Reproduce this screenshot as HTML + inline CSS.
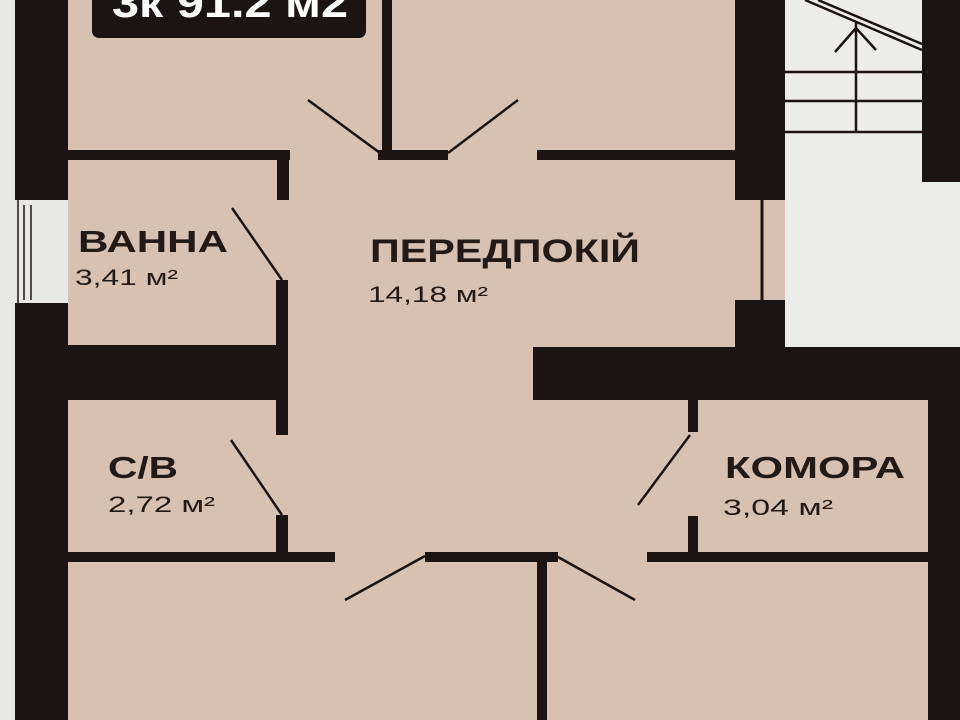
<!DOCTYPE html>
<html><head><meta charset="utf-8"><style>
html,body{margin:0;padding:0;width:960px;height:720px;overflow:hidden;background:#e8e8e6}
svg{display:block}
text{font-family:"Liberation Sans",sans-serif;fill:#231a16}
</style></head><body>
<svg width="960" height="720" viewBox="0 0 960 720" xmlns="http://www.w3.org/2000/svg">
<rect x="0" y="0" width="960" height="720" fill="#e8e8e6"/>
<!-- beige floor -->
<rect x="68" y="0" width="667" height="720" fill="#d7c1b3"/>
<rect x="735" y="348" width="193" height="372" fill="#d7c1b3"/>
<rect x="735" y="200" width="50" height="100" fill="#d7c1b3"/>
<!-- stair area -->
<rect x="785" y="0" width="175" height="348" fill="#ececea"/>
<g fill="#1c1412">
<rect x="15" y="0" width="53" height="200"/>
<rect x="15" y="303" width="53" height="417"/>
<rect x="68" y="150" width="222" height="10"/>
<rect x="277" y="150" width="12" height="50"/>
<rect x="276" y="280" width="12" height="80"/>
<rect x="15" y="345" width="273" height="55"/>
<rect x="276" y="395" width="12" height="40"/>
<rect x="276" y="515" width="12" height="45"/>
<rect x="68" y="552" width="267" height="10"/>
<rect x="382" y="0" width="10" height="158"/>
<rect x="378" y="150" width="70" height="10"/>
<rect x="537" y="150" width="200" height="10"/>
<rect x="735" y="0" width="50" height="200"/>
<rect x="735" y="300" width="50" height="50"/>
<rect x="533" y="347" width="427" height="53"/>
<rect x="922" y="0" width="38" height="182"/>
<rect x="928" y="400" width="32" height="320"/>
<rect x="688" y="400" width="10" height="32"/>
<rect x="688" y="516" width="10" height="42"/>
<rect x="647" y="552" width="281" height="10"/>
<rect x="425" y="552" width="133" height="10"/>
<rect x="537" y="555" width="10" height="165"/>
<rect x="92" y="-12" width="274" height="50" rx="7"/>
</g>
<g stroke="#1c1412" stroke-width="1.5" fill="none">
<line x1="18" y1="200" x2="18" y2="303"/>
<line x1="24" y1="205" x2="24" y2="300"/>
<line x1="31" y1="205" x2="31" y2="300"/>
</g>
<g stroke="#1c1412" stroke-width="2.5" fill="none">
<line x1="232" y1="208" x2="282" y2="280"/>
<line x1="231" y1="440" x2="282" y2="515"/>
<line x1="308" y1="100" x2="380" y2="153"/>
<line x1="448" y1="153" x2="518" y2="100"/>
<line x1="638" y1="505" x2="690" y2="435"/>
<line x1="345" y1="600" x2="425" y2="556"/>
<line x1="558" y1="557" x2="635" y2="600"/>
<line x1="762" y1="200" x2="762" y2="300" stroke-width="3"/>
</g>
<g stroke="#1c1412" stroke-width="2.5" fill="none">
<line x1="785" y1="72" x2="922" y2="72"/>
<line x1="785" y1="101" x2="922" y2="101"/>
<line x1="785" y1="132" x2="922" y2="132"/>
<line x1="856" y1="22" x2="856" y2="132"/>
<polyline points="835,52 856,28 876,50"/>
<line x1="805" y1="0" x2="922" y2="50"/>
<line x1="818" y1="0" x2="922" y2="44"/>
</g>
<text x="112" y="17" font-size="42" font-weight="bold" style="fill:#fff" textLength="236" lengthAdjust="spacingAndGlyphs">3к  91.2 м2</text>
<text x="78" y="252" font-size="31" font-weight="bold" textLength="150" lengthAdjust="spacingAndGlyphs">ВАННА</text>
<text x="75" y="285" font-size="22" textLength="103" lengthAdjust="spacingAndGlyphs">3,41 м²</text>
<text x="370" y="262" font-size="32" font-weight="bold" textLength="270" lengthAdjust="spacingAndGlyphs">ПЕРЕДПОКІЙ</text>
<text x="368" y="302" font-size="22" textLength="120" lengthAdjust="spacingAndGlyphs">14,18 м²</text>
<text x="108" y="478" font-size="31" font-weight="bold" textLength="70" lengthAdjust="spacingAndGlyphs">С/В</text>
<text x="108" y="512" font-size="22" textLength="107" lengthAdjust="spacingAndGlyphs">2,72 м²</text>
<text x="725" y="478" font-size="31" font-weight="bold" textLength="180" lengthAdjust="spacingAndGlyphs">КОМОРА</text>
<text x="723" y="515" font-size="22" textLength="110" lengthAdjust="spacingAndGlyphs">3,04 м²</text>
</svg>
</body></html>
